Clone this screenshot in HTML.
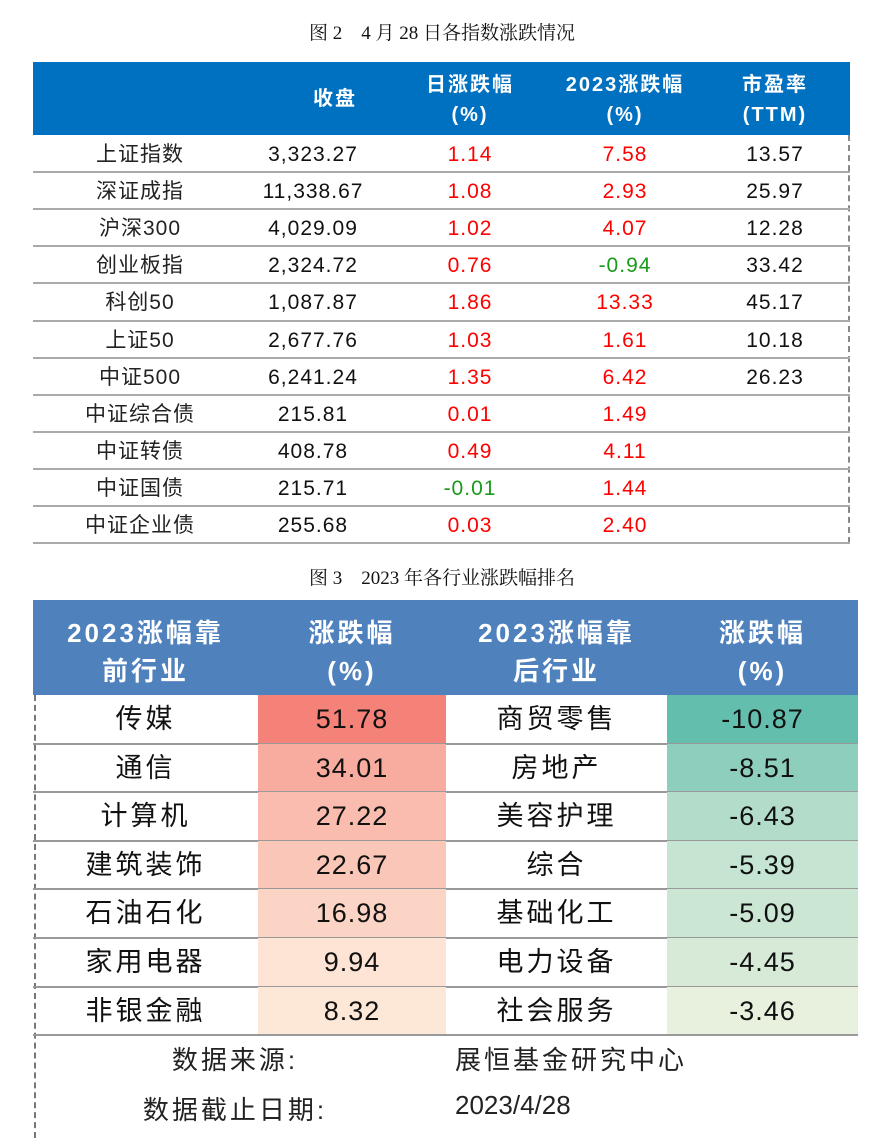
<!DOCTYPE html>
<html><head><meta charset="utf-8">
<style>
body{margin:0;width:884px;height:1138px;background:#fff;position:relative;overflow:hidden;font-family:"Liberation Sans","Noto Sans CJK SC",sans-serif;}
.abs{position:absolute;}
.cap{position:absolute;left:0;width:884px;text-align:center;font-family:"Liberation Serif","Noto Serif CJK SC",serif;font-size:19px;color:#111;}
.h1{position:absolute;top:62px;left:33px;width:817px;height:73px;background:#0070C0;}
.hc{position:absolute;color:#fff;font-weight:bold;text-align:center;font-size:20px;line-height:30px;letter-spacing:2px;}
.cell{position:absolute;text-align:center;white-space:nowrap;}
.h2{position:absolute;top:600px;left:33px;width:825px;height:95px;background:#4F81BD;}
.hc2{position:absolute;color:#fff;font-weight:bold;text-align:center;font-size:26px;line-height:38px;letter-spacing:3px;top:614px;}
</style></head><body>
<div class="cap" style="top:18px">图 2　4 月 28 日各指数涨跌情况</div>
<div class="h1"></div>
<div class="hc" style="left:270px;width:130px;top:84px">收盘</div>
<div class="hc" style="left:405px;width:130px;top:70px">日涨跌幅<br>(%)</div>
<div class="hc" style="left:550px;width:150px;top:70px">2023涨跌幅<br>(%)</div>
<div class="hc" style="left:715px;width:120px;top:70px">市盈率<br>(TTM)</div>
<div class="abs" style="left:848px;top:135px;height:408px;border-left:2px dashed #888"></div>
<div id="t1"></div>
<div class="cap" style="top:563px">图 3　2023 年各行业涨跌幅排名</div>
<div class="h2"></div>
<div class="hc2" style="left:33px;width:225px">2023涨幅靠<br>前行业</div>
<div class="hc2" style="left:258px;width:188px">涨跌幅<br>(%)</div>
<div class="hc2" style="left:446px;width:221px">2023涨幅靠<br>后行业</div>
<div class="hc2" style="left:667px;width:191px">涨跌幅<br>(%)</div>
<div class="abs" style="left:34px;top:695px;height:443px;border-left:2px dashed #777"></div>
<div id="t2"></div>
<div class="cell" style="left:140px;top:1040px;width:190px;font-size:26px;letter-spacing:3px;color:#222">数据来源:</div>
<div class="cell" style="left:455px;top:1040px;font-size:26px;letter-spacing:3px;color:#222">展恒基金研究中心</div>
<div class="cell" style="left:120px;top:1090px;width:230px;font-size:26px;letter-spacing:3px;color:#222">数据截止日期:</div>
<div class="cell" style="left:455px;top:1090px;font-size:26px;color:#222">2023/4/28</div>
<script>
const names=["上证指数","深证成指","沪深300","创业板指","科创50","上证50","中证500","中证综合债","中证转债","中证国债","中证企业债"];
const closes=["3,323.27","11,338.67","4,029.09","2,324.72","1,087.87","2,677.76","6,241.24","215.81","408.78","215.71","255.68"];
const daily=["1.14","1.08","1.02","0.76","1.86","1.03","1.35","0.01","0.49","-0.01","0.03"];
const ytd=["7.58","2.93","4.07","-0.94","13.33","1.61","6.42","1.49","4.11","1.44","2.40"];
const pe=["13.57","25.97","12.28","33.42","45.17","10.18","26.23","","","",""];
const topInd=["传媒","通信","计算机","建筑装饰","石油石化","家用电器","非银金融"];
const topVal=["51.78","34.01","27.22","22.67","16.98","9.94","8.32"];
const botInd=["商贸零售","房地产","美容护理","综合","基础化工","电力设备","社会服务"];
const botVal=["-10.87","-8.51","-6.43","-5.39","-5.09","-4.45","-3.46"];
const t1=document.getElementById('t1');
function mk(parent,txt,css){const d=document.createElement('div');d.className='cell';d.style.cssText=css;d.textContent=txt;parent.appendChild(d);return d;}
const rh=37.1;
names.forEach((n,i)=>{
  const y=135+i*rh;
  const ln=document.createElement('div');ln.className='abs';
  ln.style.cssText=`left:33px;top:${y+rh-1}px;width:817px;height:2px;background:#aaa`;
  t1.appendChild(ln);
  const base=`top:${y+5}px;font-size:21px;line-height:30px;letter-spacing:1px;`;
  let e=mk(t1,n,base+'left:60px;width:160px;color:#222');
  
  
  e=mk(t1,closes[i],base+'left:243px;width:140px;color:#111');
  
  
  const dc=parseFloat(daily[i])<0?'#1a9a1a':'#f00';
  e=mk(t1,daily[i],base+`left:405px;width:130px;color:${dc}`);
  
  
  const yc=parseFloat(ytd[i])<0?'#1a9a1a':'#f00';
  e=mk(t1,ytd[i],base+`left:555px;width:140px;color:${yc}`);
  
  
  e=mk(t1,pe[i],base+'left:715px;width:120px;color:#111');
  
  
});
const t2=document.getElementById('t2');
const rh2=48.6;
function mix(a,b,t){return 'rgb('+a.map((v,k)=>Math.round(v+(b[k]-v)*t)).join(',')+')';}
const maxTop=Math.max(...topVal.map(Number)),minTop=Math.min(...topVal.map(Number));
const minBot=Math.min(...botVal.map(Number)),maxBot=Math.max(...botVal.map(Number));
topInd.forEach((n,i)=>{
  const y=695+i*rh2;
  const tt=(maxTop-Number(topVal[i]))/(maxTop-minTop);
  const c1=mix([244,130,120],[253,232,216],tt);
  const bt=(Number(botVal[i])-minBot)/(maxBot-minBot);
  const c2=mix([99,190,174],[232,241,221],bt);
  const b1=document.createElement('div');b1.className='abs';
  b1.style.cssText=`left:258px;top:${y}px;width:188px;height:${rh2}px;background:${c1}`;
  
  
  t2.appendChild(b1);
  const b2=document.createElement('div');b2.className='abs';
  b2.style.cssText=`left:667px;top:${y}px;width:191px;height:${rh2}px;background:${c2}`;
  
  
  t2.appendChild(b2);
  const ln=document.createElement('div');ln.className='abs';
  ln.style.cssText=`left:33px;top:${y+rh2-1}px;width:825px;height:2px;background:#999`;
  t2.appendChild(ln);
  const base=`top:${y+7}px;font-size:27px;line-height:34px;letter-spacing:3px;color:#111;`;
  let e=mk(t2,n,base+'left:33px;width:225px');
  
  
  e=mk(t2,topVal[i],base+'left:258px;width:188px;letter-spacing:1px');
  
  
  e=mk(t2,botInd[i],base+'left:446px;width:221px');
  
  
  e=mk(t2,botVal[i],base+'left:667px;width:191px;letter-spacing:1px');
  
  
});
</script>
</body></html>
